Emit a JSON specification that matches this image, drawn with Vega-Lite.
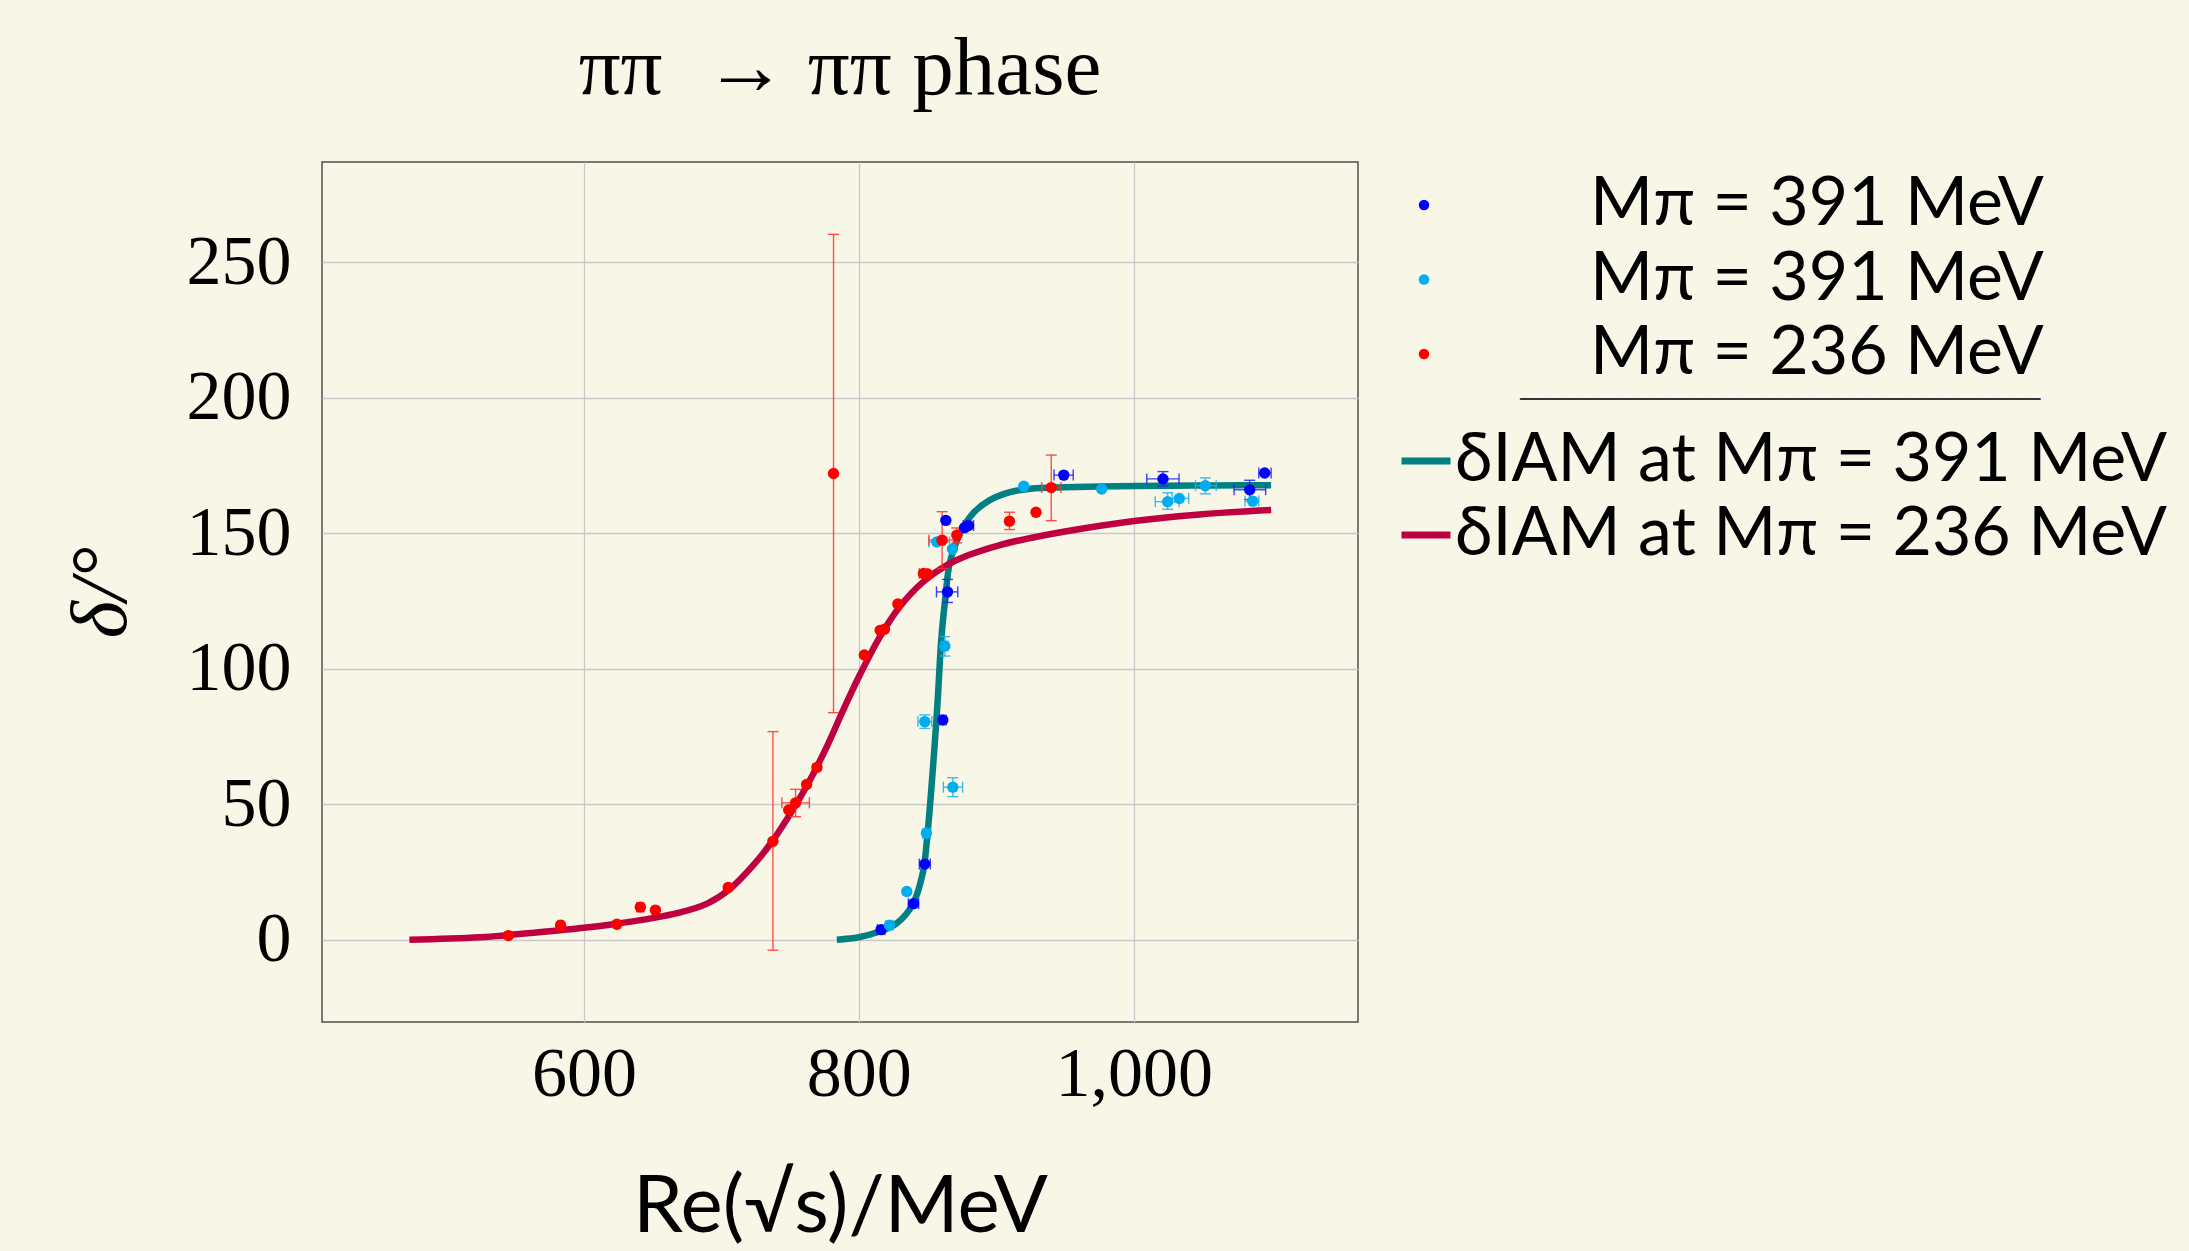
{
  "$schema": "https://vega.github.io/schema/vega-lite/v6.json",
  "width": 1036,
  "height": 860,
  "autosize": {"type": "none"},
  "padding": {"left": 322, "top": 162, "right": 831, "bottom": 229},
  "background": "#F8F7E7",
  "title": {"text": "ππ \u00a0→ ππ phase", "anchor": "middle", "font": "Liberation Serif", "fontSize": 83, "fontWeight": "normal", "baseline": "alphabetic", "offset": 0, "dy": 15, "color": "#000000"},
  "datasets": {
    "points": [
      {"set": "391 MeV (blue)", "E": 816.2, "delta": 3.7, "Elo": 813.5, "Ehi": 819},
      {"set": "391 MeV (blue)", "E": 839.8, "delta": 13.3, "Elo": 836, "Ehi": 843.5},
      {"set": "391 MeV (blue)", "E": 848.0, "delta": 27.9, "Elo": 844, "Ehi": 852},
      {"set": "391 MeV (blue)", "E": 861.1, "delta": 81.1, "Elo": 859, "Ehi": 863.5},
      {"set": "391 MeV (blue)", "E": 864.5, "delta": 128.4, "Elo": 856.5, "Ehi": 872, "dlo": 124.5, "dhi": 133},
      {"set": "391 MeV (blue)", "E": 863.3, "delta": 154.8},
      {"set": "391 MeV (blue)", "E": 876.9, "delta": 152.1},
      {"set": "391 MeV (blue)", "E": 879.8, "delta": 152.9, "Elo": 876, "Ehi": 883.5},
      {"set": "391 MeV (blue)", "E": 949.1, "delta": 171.5, "Elo": 942, "Ehi": 956},
      {"set": "391 MeV (blue)", "E": 1021.3, "delta": 170.1, "Elo": 1009.5, "Ehi": 1033, "dlo": 167.5, "dhi": 172.8},
      {"set": "391 MeV (blue)", "E": 1084.4, "delta": 166.1, "Elo": 1073, "Ehi": 1096, "dlo": 162.5, "dhi": 169.6},
      {"set": "391 MeV (blue)", "E": 1095.3, "delta": 172.3, "Elo": 1091, "Ehi": 1100},
      {"set": "391 MeV (cyan)", "E": 822.3, "delta": 5.3, "Elo": 819.5, "Ehi": 825},
      {"set": "391 MeV (cyan)", "E": 834.9, "delta": 17.8},
      {"set": "391 MeV (cyan)", "E": 849.2, "delta": 39.3, "Elo": 846.5, "Ehi": 852},
      {"set": "391 MeV (cyan)", "E": 868.4, "delta": 56.3, "Elo": 861.5, "Ehi": 875.5, "dlo": 52.8, "dhi": 59.8},
      {"set": "391 MeV (cyan)", "E": 848.0, "delta": 80.5, "Elo": 843, "Ehi": 853, "dlo": 78, "dhi": 83},
      {"set": "391 MeV (cyan)", "E": 862.6, "delta": 108.4, "Elo": 860, "Ehi": 865, "dlo": 104.7, "dhi": 111.9},
      {"set": "391 MeV (cyan)", "E": 856.7, "delta": 146.8, "Elo": 851, "Ehi": 866},
      {"set": "391 MeV (cyan)", "E": 868.1, "delta": 144.2},
      {"set": "391 MeV (cyan)", "E": 920.0, "delta": 167.4},
      {"set": "391 MeV (cyan)", "E": 976.7, "delta": 166.4},
      {"set": "391 MeV (cyan)", "E": 1024.7, "delta": 161.7, "Elo": 1015.7, "Ehi": 1033, "dlo": 158.9, "dhi": 165},
      {"set": "391 MeV (cyan)", "E": 1033.2, "delta": 162.9, "Elo": 1028, "Ehi": 1040},
      {"set": "391 MeV (cyan)", "E": 1052.1, "delta": 167.6, "Elo": 1045, "Ehi": 1060, "dlo": 164.6, "dhi": 170.5},
      {"set": "391 MeV (cyan)", "E": 1086.6, "delta": 161.9, "Elo": 1081, "Ehi": 1091},
      {"set": "236 MeV", "E": 545, "delta": 1.5},
      {"set": "236 MeV", "E": 583, "delta": 5.3, "Elo": 581, "Ehi": 585},
      {"set": "236 MeV", "E": 624, "delta": 5.7},
      {"set": "236 MeV", "E": 641, "delta": 12.0, "Elo": 638.5, "Ehi": 643.5},
      {"set": "236 MeV", "E": 652, "delta": 10.9},
      {"set": "236 MeV", "E": 705, "delta": 19.3},
      {"set": "236 MeV", "E": 737.5, "delta": 36.3, "dlo": -3.9, "dhi": 76.8},
      {"set": "236 MeV", "E": 749, "delta": 47.9},
      {"set": "236 MeV", "E": 754, "delta": 50.5, "Elo": 744, "Ehi": 764, "dlo": 45.4, "dhi": 55.5},
      {"set": "236 MeV", "E": 762, "delta": 57.3},
      {"set": "236 MeV", "E": 769.5, "delta": 63.6},
      {"set": "236 MeV", "E": 781.6, "delta": 172.1, "dlo": 83.8, "dhi": 260.4},
      {"set": "236 MeV", "E": 804, "delta": 105.1},
      {"set": "236 MeV", "E": 815.5, "delta": 114.2},
      {"set": "236 MeV", "E": 818.7, "delta": 114.6},
      {"set": "236 MeV", "E": 828.4, "delta": 123.9},
      {"set": "236 MeV", "E": 847, "delta": 135.2, "Elo": 844, "Ehi": 850},
      {"set": "236 MeV", "E": 850, "delta": 135.0},
      {"set": "236 MeV", "E": 860.6, "delta": 147.5, "Elo": 851, "Ehi": 871, "dlo": 137, "dhi": 158},
      {"set": "236 MeV", "E": 871.3, "delta": 149.3, "dlo": 146.5, "dhi": 152},
      {"set": "236 MeV", "E": 909.6, "delta": 154.5, "dlo": 151.4, "dhi": 157.8},
      {"set": "236 MeV", "E": 928.9, "delta": 157.8},
      {"set": "236 MeV", "E": 940, "delta": 166.9, "Elo": 933, "Ehi": 947, "dlo": 154.7, "dhi": 178.9}
    ],
    "curves": [
      {"curve": "δIAM at Mπ = 391 MeV", "E": 784, "delta": 0},
      {"curve": "δIAM at Mπ = 391 MeV", "E": 800, "delta": 0.9},
      {"curve": "δIAM at Mπ = 391 MeV", "E": 815, "delta": 3.0},
      {"curve": "δIAM at Mπ = 391 MeV", "E": 827, "delta": 5.8},
      {"curve": "δIAM at Mπ = 391 MeV", "E": 839, "delta": 12.8},
      {"curve": "δIAM at Mπ = 391 MeV", "E": 846.5, "delta": 24.5},
      {"curve": "δIAM at Mπ = 391 MeV", "E": 850, "delta": 39.3},
      {"curve": "δIAM at Mπ = 391 MeV", "E": 854, "delta": 63.9},
      {"curve": "δIAM at Mπ = 391 MeV", "E": 857.4, "delta": 88.5},
      {"curve": "δIAM at Mπ = 391 MeV", "E": 860, "delta": 111},
      {"curve": "δIAM at Mπ = 391 MeV", "E": 863, "delta": 126.5},
      {"curve": "δIAM at Mπ = 391 MeV", "E": 866, "delta": 138.8},
      {"curve": "δIAM at Mπ = 391 MeV", "E": 870, "delta": 145.5},
      {"curve": "δIAM at Mπ = 391 MeV", "E": 876, "delta": 152.3},
      {"curve": "δIAM at Mπ = 391 MeV", "E": 884, "delta": 157.9},
      {"curve": "δIAM at Mπ = 391 MeV", "E": 895, "delta": 162.2},
      {"curve": "δIAM at Mπ = 391 MeV", "E": 910, "delta": 165.2},
      {"curve": "δIAM at Mπ = 391 MeV", "E": 925, "delta": 166.5},
      {"curve": "δIAM at Mπ = 391 MeV", "E": 950, "delta": 167.0},
      {"curve": "δIAM at Mπ = 391 MeV", "E": 975, "delta": 167.3},
      {"curve": "δIAM at Mπ = 391 MeV", "E": 1025, "delta": 167.6},
      {"curve": "δIAM at Mπ = 391 MeV", "E": 1060, "delta": 167.7},
      {"curve": "δIAM at Mπ = 391 MeV", "E": 1100, "delta": 167.8},
      {"curve": "δIAM at Mπ = 236 MeV", "E": 473, "delta": 0},
      {"curve": "δIAM at Mπ = 236 MeV", "E": 524, "delta": 0.9},
      {"curve": "δIAM at Mπ = 236 MeV", "E": 572.5, "delta": 3.0},
      {"curve": "δIAM at Mπ = 236 MeV", "E": 621, "delta": 5.7},
      {"curve": "δIAM at Mπ = 236 MeV", "E": 669.5, "delta": 10.0},
      {"curve": "δIAM at Mπ = 236 MeV", "E": 690, "delta": 13.4},
      {"curve": "δIAM at Mπ = 236 MeV", "E": 706, "delta": 18.6},
      {"curve": "δIAM at Mπ = 236 MeV", "E": 722.9, "delta": 27.3},
      {"curve": "δIAM at Mπ = 236 MeV", "E": 737.4, "delta": 36.6},
      {"curve": "δIAM at Mπ = 236 MeV", "E": 752, "delta": 48.0},
      {"curve": "δIAM at Mπ = 236 MeV", "E": 764.1, "delta": 58.6},
      {"curve": "δIAM at Mπ = 236 MeV", "E": 776.2, "delta": 70.7},
      {"curve": "δIAM at Mπ = 236 MeV", "E": 788.4, "delta": 84.5},
      {"curve": "δIAM at Mπ = 236 MeV", "E": 800.5, "delta": 97.5},
      {"curve": "δIAM at Mπ = 236 MeV", "E": 815, "delta": 111.5},
      {"curve": "δIAM at Mπ = 236 MeV", "E": 829.6, "delta": 122.8},
      {"curve": "δIAM at Mπ = 236 MeV", "E": 846.6, "delta": 132.0},
      {"curve": "δIAM at Mπ = 236 MeV", "E": 866, "delta": 138.8},
      {"curve": "δIAM at Mπ = 236 MeV", "E": 880, "delta": 142.0},
      {"curve": "δIAM at Mπ = 236 MeV", "E": 902, "delta": 145.6},
      {"curve": "δIAM at Mπ = 236 MeV", "E": 925, "delta": 148.3},
      {"curve": "δIAM at Mπ = 236 MeV", "E": 951, "delta": 150.8},
      {"curve": "δIAM at Mπ = 236 MeV", "E": 999, "delta": 154.5},
      {"curve": "δIAM at Mπ = 236 MeV", "E": 1048, "delta": 157.0},
      {"curve": "δIAM at Mπ = 236 MeV", "E": 1100, "delta": 158.6}
    ]
  },
  "layer": [
    {
      "data": {"name": "curves"},
      "mark": {"type": "line", "strokeWidth": 6.5, "interpolate": "catmull-rom"},
      "encoding": {
        "x": {"field": "E", "type": "quantitative", "title": "Re(√s)/MeV",
              "scale": {"domain": [409.4, 1163.2], "nice": false, "zero": false},
              "axis": {"values": [600, 800, 1000], "format": ",d", "labelPadding": 18, "titleBaseline": "alphabetic", "titleY": 209}},
        "y": {"field": "delta", "type": "quantitative", "title": "δ/°",
              "scale": {"domain": [-30.4, 287.1], "nice": false, "zero": false},
              "axis": {"values": [0, 50, 100, 150, 200, 250], "labelPadding": 31, "titleFont": "Liberation Serif", "titleFontStyle": "italic", "titleBaseline": "alphabetic", "titleX": -197, "titleY": 430, "titleAlign": "center", "titleAngle": -90}},
        "stroke": {"field": "curve", "type": "nominal",
                   "scale": {"domain": ["δIAM at Mπ = 391 MeV", "δIAM at Mπ = 236 MeV"], "range": ["#008080", "#BF0040"]},
                   "legend": {"orient": "none", "legendX": 1070, "legendY": 226, "title": "────────────────────────────────────", "titleOrient": "top", "titleAnchor": "middle", "titleFont": "DejaVu Sans", "titleFontSize": 24, "titleFontWeight": "normal", "titleColor": "#333333", "titleLimit": 900, "titlePadding": 15, "symbolType": "stroke", "symbolStrokeWidth": 7, "symbolSize": 2400, "labelFont": "Lato", "labelFontSize": 68, "labelOffset": -5, "labelLimit": 1000, "labelColor": "#000000", "rowPadding": 6, "padding": 0,
                              "encoding": {"title": {"update": {"dx": {"value": 37}}}}}}
      }
    },
    {
      "data": {"name": "points"},
      "transform": [{"filter": "isValid(datum.dlo)"}],
      "encoding": {
        "x": {"field": "E", "type": "quantitative"},
        "color": {"field": "set", "type": "nominal", "scale": {"domain": ["236 MeV", "391 MeV (blue)", "391 MeV (cyan)"], "range": ["#FF3030", "#2020FF", "#20B0F0"]}, "legend": null}
      },
      "layer": [
        {"mark": {"type": "rule", "strokeWidth": 1.4, "opacity": 0.85},
         "encoding": {"y": {"field": "dlo", "type": "quantitative"}, "y2": {"field": "dhi"}}},
        {"mark": {"type": "tick", "orient": "horizontal", "size": 11, "thickness": 1.4, "opacity": 0.85},
         "encoding": {"y": {"field": "dlo", "type": "quantitative"}}},
        {"mark": {"type": "tick", "orient": "horizontal", "size": 11, "thickness": 1.4, "opacity": 0.85},
         "encoding": {"y": {"field": "dhi", "type": "quantitative"}}}
      ]
    },
    {
      "data": {"name": "points"},
      "transform": [{"filter": "isValid(datum.Elo)"}],
      "encoding": {
        "y": {"field": "delta", "type": "quantitative"},
        "color": {"field": "set", "type": "nominal", "scale": {"domain": ["236 MeV", "391 MeV (blue)", "391 MeV (cyan)"], "range": ["#FF3030", "#2020FF", "#20B0F0"]}, "legend": null}
      },
      "layer": [
        {"mark": {"type": "rule", "strokeWidth": 1.4, "opacity": 0.85},
         "encoding": {"x": {"field": "Elo", "type": "quantitative"}, "x2": {"field": "Ehi"}}},
        {"mark": {"type": "tick", "orient": "vertical", "size": 11, "thickness": 1.4, "opacity": 0.85},
         "encoding": {"x": {"field": "Elo", "type": "quantitative"}}},
        {"mark": {"type": "tick", "orient": "vertical", "size": 11, "thickness": 1.4, "opacity": 0.85},
         "encoding": {"x": {"field": "Ehi", "type": "quantitative"}}}
      ]
    },
    {
      "data": {"name": "points"},
      "mark": {"type": "circle", "size": 130, "opacity": 1},
      "encoding": {
        "x": {"field": "E", "type": "quantitative"},
        "y": {"field": "delta", "type": "quantitative"},
        "fill": {"field": "set", "type": "nominal",
                 "scale": {"domain": ["391 MeV (blue)", "391 MeV (cyan)", "236 MeV"], "range": ["#0000FF", "#00AEEF", "#FF0000"]},
                 "legend": {"orient": "none", "legendX": 1068, "legendY": 9, "title": null, "symbolType": "circle", "symbolSize": 110, "symbolStrokeWidth": 0, "labelFont": "Lato", "labelFontSize": 68, "labelOffset": 132, "labelLimit": 1000, "labelColor": "#000000", "rowPadding": 6.5, "padding": 0,
                            "labelExpr": "datum.value == '236 MeV' ? 'Mπ = 236 MeV' : 'Mπ = 391 MeV'"}}
      }
    }
  ],
  "config": {
    "view": {"stroke": "#4D4D4D", "strokeWidth": 1.5, "fill": null},
    "axis": {"grid": true, "gridColor": "#C8C8C8", "gridWidth": 1.3, "domain": false, "ticks": false,
             "labelFont": "Liberation Serif", "labelFontSize": 70, "labelColor": "#000000",
             "titleFont": "Lato", "titleFontSize": 80, "titleFontWeight": "normal", "titleColor": "#000000"}
  }
}
